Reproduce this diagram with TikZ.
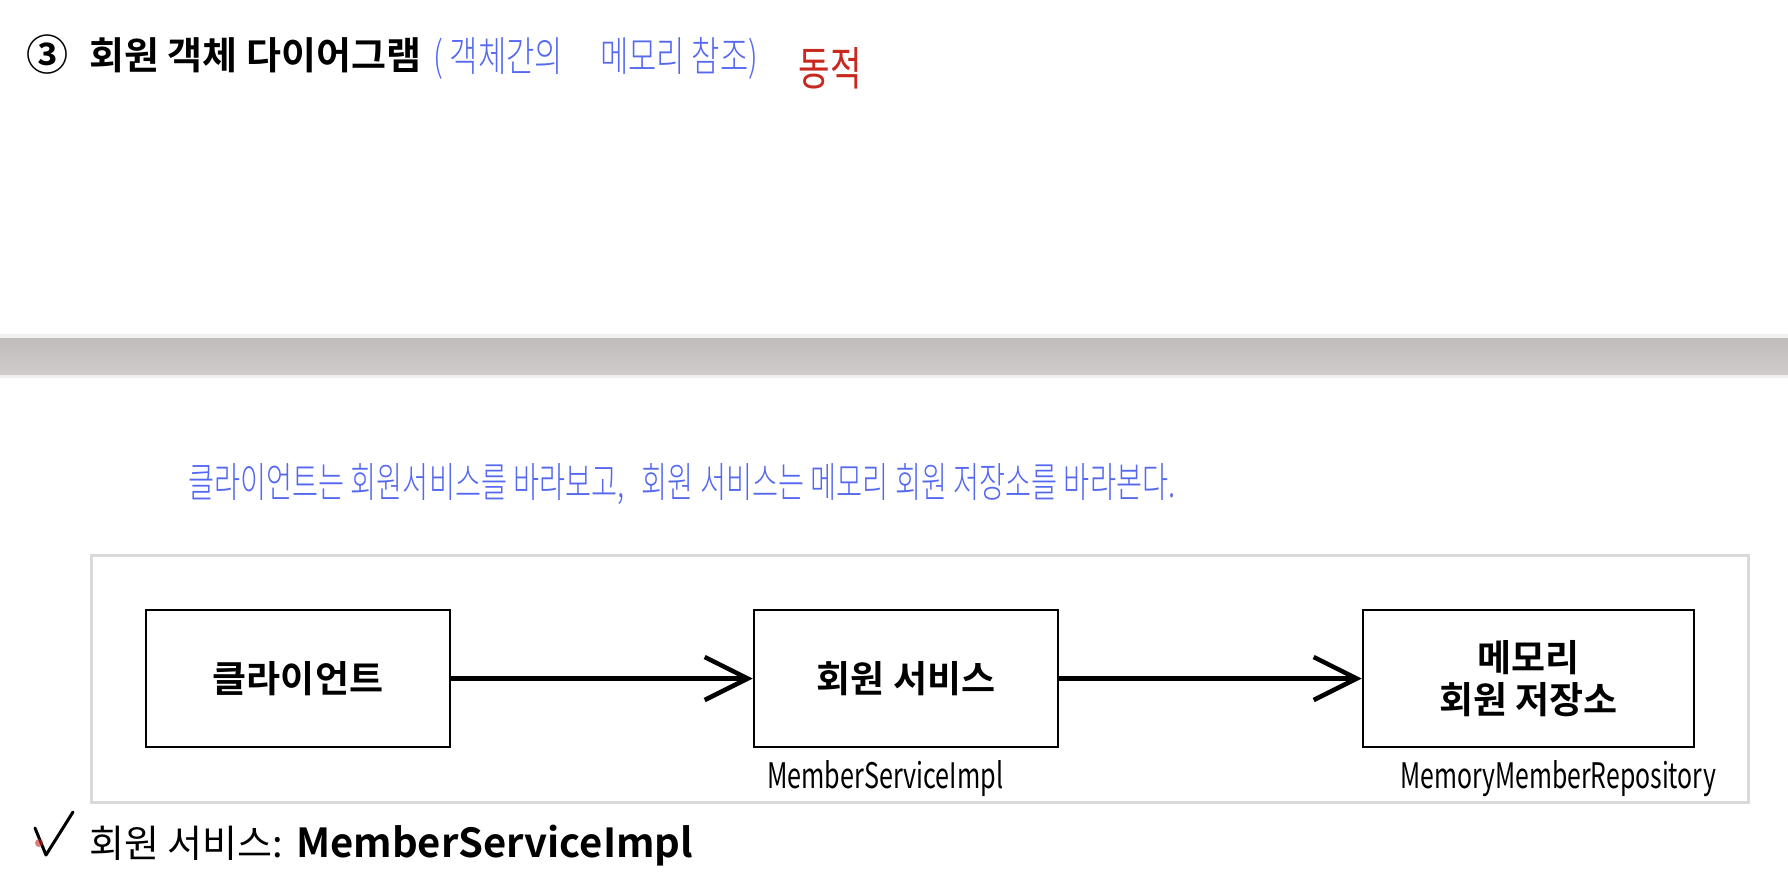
\documentclass[tikz,border=0pt]{standalone}
\usepackage{fontspec}
\usetikzlibrary{arrows.meta}
\newfontfamily\krr{Noto Sans CJK KR}
\newfontfamily\krb{Noto Sans CJK KR Bold}
\newfontfamily\krl{Noto Sans CJK KR Light}
\definecolor{pen}{HTML}{5468F0}
\definecolor{redpen}{HTML}{C8281E}
\definecolor{framegray}{HTML}{D9D9D9}
\definecolor{barlt}{HTML}{F0F0F0}
\definecolor{bartop}{HTML}{C0BCBC}
\definecolor{barmid}{HTML}{DEDADA}
\definecolor{barbot}{HTML}{D0CCCC}
\begin{document}
\begin{tikzpicture}[x=1pt,y=-1pt,
  box/.style={draw=black,line width=2.5pt,fill=white,minimum height=137pt,inner sep=0pt,
    font=\krb\fontsize{37}{42}\selectfont,align=center},
  conn/.style={line width=4.5pt,-{Straight Barb[length=43pt,width=43pt,line width=4.5pt]}},
  hand/.style={text=pen,inner sep=0pt},
]
\useasboundingbox (0,0) rectangle (1788,892);
\fill[white] (0,0) rectangle (1788,892);

% title
\node[anchor=center,inner sep=0pt,font=\krb\fontsize{42}{42}\selectfont] (num) at (47,55) {③};
\node[anchor=base west,inner sep=0pt,font=\krb\fontsize{38}{42}\selectfont] (title) at (89,69) {회원 객체 다이어그램};
\node[hand,anchor=west] (memo) at (433,58) {\resizebox{325pt}{34pt}{\krl ( 객체간의\hspace{1.2em}메모리 참조)}};
\node[inner sep=0pt,text=redpen] (dong) at (830,68) {\resizebox{63pt}{38pt}{\krr 동적}};

% separator bar
\fill[barlt] (0,334) rectangle (1788,378);
\shade[top color=bartop, middle color=barmid, bottom color=barbot] (0,338) rectangle (1788,374);

% sentence
\node[hand,anchor=west] (sent) at (188,484) {\resizebox{987pt}{34pt}{\krl 클라이언트는 회원서비스를 바라보고,\hspace{0.6em}회원 서비스는 메모리 회원 저장소를 바라본다.}};

% frame
\draw[framegray,line width=3pt] (91,555) rectangle (1748,802);

% boxes
\node[box,minimum width=304pt] (client) at (298,678.5) {클라이언트};
\node[box,minimum width=304pt] (service) at (906,678.5) {회원 서비스};
\node[box,minimum width=331pt] (repo) at (1528.5,678.5) {메모리\\회원 저장소};

\draw[conn] (client) -- (service);
\draw[conn] (service) -- (repo);

\node[anchor=west,inner sep=0pt] (implA) at (767,779) {\resizebox{236pt}{28pt}{\krr MemberServiceImpl}};
\node[anchor=west,inner sep=0pt] (implB) at (1400,779) {\resizebox{316pt}{28pt}{\krr MemoryMemberRepository}};

% bottom line
\draw[line width=3pt,line cap=round,line join=round] (35,828) -- (46,855) -- (73,812);
\fill[redpen,opacity=0.6] (39,843) circle (4);
\node[anchor=base west,inner sep=0pt,font=\krr\fontsize{38}{42}\selectfont] (lbl) at (89,857) {회원 서비스:};
\node[anchor=base west,inner sep=0pt] (lblb) at (296,857) {\resizebox{397pt}{!}{\krb\fontsize{34}{40}\selectfont MemberServiceImpl}};
\end{tikzpicture}
\end{document}
